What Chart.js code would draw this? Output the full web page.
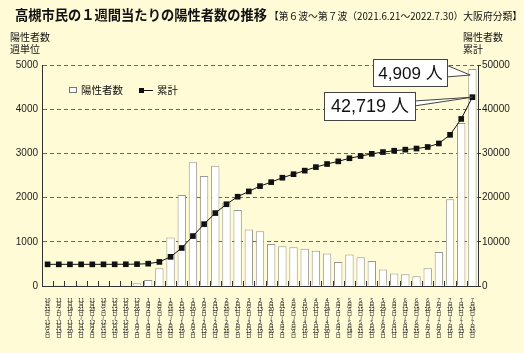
<!DOCTYPE html>
<html>
<head>
<meta charset="utf-8">
<script src="https://cdn.jsdelivr.net/npm/chart.js@4"></script>
<style>
  body { margin: 0; background: #fffbd6; }
  canvas { display: block; }
</style>
</head>
<body>
<canvas id="grafico" width="524" height="353"></canvas>
<script>
// Datos
const titulo = "高槻市民の１週間当たりの陽性者数の推移"
const subtitulo = "【第６波～第７波（2021.6.21～2022.7.30）大阪府分類】"
const ejeIzquierdo = ["陽性者数", "週単位"]
const ejeDerecho = ["陽性者数", "累計"]
const nombresSeries = ["陽性者数", "累計"]

const semanas = [
  "10月31日～11月6日", "11月7日～11月13日", "11月14日～11月20日", "11月21日～11月27日",
  "11月28日～12月4日", "12月5日～12月11日", "12月12日～12月18日", "12月19日～12月25日",
  "12月26日～1月1日", "1月2日～1月8日", "1月9日～1月15日", "1月16日～1月22日",
  "1月23日～1月29日", "1月30日～2月5日", "2月6日～2月12日", "2月13日～2月19日",
  "2月20日～2月26日", "2月27日～3月5日", "3月6日～3月12日", "3月13日～3月19日",
  "3月20日～3月26日", "3月27日～4月2日", "4月3日～4月9日", "4月10日～4月16日",
  "4月17日～4月23日", "4月24日～4月30日", "5月1日～5月7日", "5月8日～5月14日",
  "5月15日～5月21日", "5月22日～5月28日", "5月29日～6月4日", "6月5日～6月11日",
  "6月12日～6月18日", "6月19日～6月25日", "6月26日～7月2日", "7月3日～7月9日",
  "7月10日～7月16日", "7月17日～7月23日", "7月24日～7月30日"
]

// Positivos por semana (eje izquierdo)
const positivos = [
  3, 2, 4, 2, 3, 5, 4, 6, 60, 135, 400, 1100, 2060, 2800, 2490, 2720, 1890, 1720, 1280, 1240,
  950, 900, 875, 845, 795, 735, 545, 715, 650, 565, 375, 285, 265, 220, 400, 770, 1960, 3690, 4909
]

// Acumulado (eje derecho)
const acumulado = [
  4900, 4900, 4900, 4900, 4900, 4900, 4910, 4920, 4950, 5050, 5450, 6600, 8600, 11300, 14000,
  16500, 18500, 20200, 21400, 22600, 23500, 24500, 25300, 26100, 26900, 27600, 28200, 28900,
  29400, 29900, 30300, 30600, 30850, 31100, 31450, 32250, 34200, 37800, 42719
]

const ticksIzq = [0, 1000, 2000, 3000, 4000, 5000]
const ticksDer = [0, 10000, 20000, 30000, 40000, 50000]

const fuenteJP = '"Noto Sans CJK JP", sans-serif'
const fuenteNum = '"Liberation Sans", Arial, sans-serif'

// Etiquetas verticales: cada número o carácter en su propia línea
const etiquetas = semanas.map(s => s.replace("～", "≀").match(/\d+|./g))

// Plugin con títulos, leyenda, marcas del eje x y llamadas
const decoracion = {
  id: "decoracion",
  afterDraw(chart) {
    const ctx = chart.ctx
    const area = chart.chartArea
    const x = chart.scales.x
    ctx.save()

    // Marcas entre categorías hacia arriba
    ctx.strokeStyle = "#333"
    ctx.lineWidth = 1
    for (let i = 1; i < semanas.length; i++) {
      const px = Math.round((x.getPixelForValue(i - 1) + x.getPixelForValue(i)) / 2) + 0.5
      ctx.beginPath()
      ctx.moveTo(px, area.bottom)
      ctx.lineTo(px, area.bottom - 5)
      ctx.stroke()
    }

    // Título
    ctx.fillStyle = "#111"
    ctx.textBaseline = "middle"
    ctx.textAlign = "left"
    ctx.font = "bold 14px " + fuenteJP
    ctx.fillText(titulo, 15, 15, 252)
    ctx.font = "10px " + fuenteJP
    ctx.fillText(subtitulo, 269, 16, 253)

    // Títulos de los ejes
    ctx.font = "10px " + fuenteJP
    ctx.fillText(ejeIzquierdo[0], 10, 37)
    ctx.fillText(ejeIzquierdo[1], 10, 49)
    ctx.fillText(ejeDerecho[0], 463, 37)
    ctx.fillText(ejeDerecho[1], 463, 49)

    // Leyenda
    ctx.fillStyle = "#fff"
    ctx.strokeStyle = "#777"
    ctx.fillRect(69.5, 87.5, 7, 5)
    ctx.strokeRect(69.5, 87.5, 7, 5)
    ctx.fillStyle = "#111"
    ctx.font = "10.5px " + fuenteJP
    ctx.fillText(nombresSeries[0], 81, 90.5)
    ctx.fillRect(139, 88, 5, 5)
    ctx.strokeStyle = "#111"
    ctx.beginPath()
    ctx.moveTo(143, 90.5)
    ctx.lineTo(153, 90.5)
    ctx.stroke()
    ctx.fillText(nombresSeries[1], 157, 90.5)

    // Llamadas con los últimos valores
    const n = semanas.length - 1
    const barra = chart.getDatasetMeta(0).data[n]
    const punto = chart.getDatasetMeta(1).data[n]
    llamada(ctx, 373, 59, 74, 27, positivos[n].toLocaleString("en-US") + " 人", 17,
      barra.x - barra.width / 2 + 2, barra.y + 6, 65, 77)
    llamada(ctx, 324, 92, 91, 28, acumulado[n].toLocaleString("en-US") + " 人", 18,
      punto.x, punto.y, 101, 106)

    ctx.restore()
  }
}

function llamada(ctx, bx, by, bw, bh, texto, tam, px, py, y1, y2) {
  // Punta
  ctx.fillStyle = "#fff"
  ctx.strokeStyle = "#444"
  ctx.lineWidth = 1
  ctx.beginPath()
  ctx.moveTo(bx + bw - 1, y1)
  ctx.lineTo(px, py)
  ctx.lineTo(bx + bw - 1, y2)
  ctx.closePath()
  ctx.fill()
  ctx.stroke()
  // Caja
  ctx.fillStyle = "#fff"
  ctx.fillRect(bx + 0.5, by + 0.5, bw, bh)
  ctx.strokeRect(bx + 0.5, by + 0.5, bw, bh)
  ctx.fillStyle = "#111"
  ctx.textAlign = "center"
  ctx.textBaseline = "middle"
  ctx.font = tam + 'px "Liberation Sans", "Noto Sans CJK JP", sans-serif'
  ctx.fillText(texto, bx + bw / 2 + 0.5, by + bh / 2 + 1.5)
  ctx.textAlign = "left"
}

const grafico = new Chart(document.getElementById("grafico"), {
  type: "bar",
  data: {
    labels: etiquetas,
    datasets: [
      {
        type: "bar",
        label: nombresSeries[0],
        data: positivos,
        yAxisID: "y",
        backgroundColor: "#fff",
        borderColor: "#999",
        borderWidth: 1,
        barPercentage: 0.75,
        categoryPercentage: 1,
        order: 1
      },
      {
        type: "line",
        label: nombresSeries[1],
        data: acumulado,
        yAxisID: "y1",
        borderColor: "#111",
        borderWidth: 1,
        backgroundColor: "#111",
        pointStyle: "rect",
        pointRadius: 4,
        pointBorderWidth: 0,
        tension: 0,
        order: 0
      }
    ]
  },
  options: {
    responsive: false,
    animation: false,
    devicePixelRatio: 1,
    layout: { padding: { top: 65, left: 0, right: 0, bottom: 0 } },
    plugins: { legend: { display: false }, tooltip: { enabled: false } },
    scales: {
      x: {
        grid: { display: false },
        border: { color: "#333" },
        ticks: {
          color: "#222",
          font: { family: fuenteJP, size: 5.5, lineHeight: "4.4px" },
          maxRotation: 0,
          minRotation: 0,
          autoSkip: false,
          padding: 4
        },
        afterFit: s => { s.height = 67 }
      },
      y: {
        position: "left",
        min: 0,
        max: 5000,
        afterBuildTicks: s => { s.ticks = ticksIzq.map(v => ({ value: v })) },
        ticks: { color: "#222", font: { family: fuenteNum, size: 10 }, padding: 4, callback: v => String(v) },
        grid: { color: c => c.tick.value === 0 ? "rgba(0,0,0,0)" : "#666", drawTicks: false },
        border: { color: "#333", dash: [4, 3] },
        afterFit: s => { s.width = 42 }
      },
      y1: {
        position: "right",
        min: 0,
        max: 50000,
        afterBuildTicks: s => { s.ticks = ticksDer.map(v => ({ value: v })) },
        ticks: { color: "#222", font: { family: fuenteNum, size: 10 }, padding: 1, callback: v => String(v) },
        grid: { drawOnChartArea: false, tickLength: 3, color: "#333" },
        border: { color: "#333" },
        afterFit: s => { s.width = 46 }
      }
    }
  },
  plugins: [decoracion]
})
</script>
</body>
</html>
